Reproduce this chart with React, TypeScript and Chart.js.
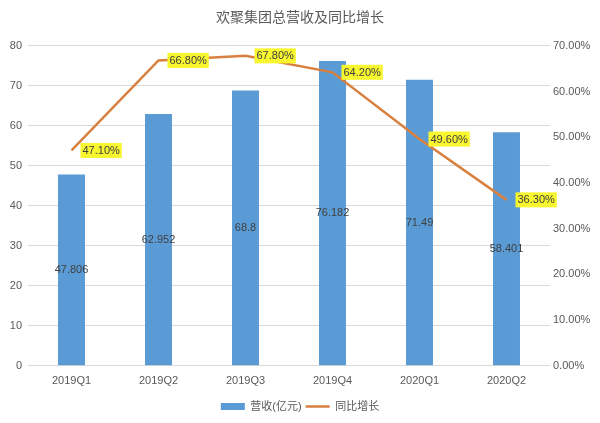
import React, { useEffect, useRef } from "react";
import { Chart, registerables } from "chart.js";

Chart.register(...registerables);

const categories = ["2019Q1", "2019Q2", "2019Q3", "2019Q4", "2020Q1", "2020Q2"];
const revenue = [47.806, 62.952, 68.8, 76.182, 71.49, 58.401];
const growth = [47.1, 66.8, 67.8, 64.2, 49.6, 36.3];
const leftTicks = [0, 80, 10];
const rightTicks = [0, 70, 10];

const FONT = '"Liberation Sans", "Noto Sans CJK SC", sans-serif';
const BAR_COLOR = "#5B9BD5";
const LINE_COLOR = "#D8803F";

const labelPlugin = {
  id: "valueLabels",
  afterDatasetsDraw(chart: any) {
    const ctx = chart.ctx;
    ctx.save();
    ctx.font = `11px ${FONT}`;
    ctx.textBaseline = "middle";
    const barMeta = chart.getDatasetMeta(0);
    ctx.fillStyle = "#404040";
    ctx.textAlign = "center";
    barMeta.data.forEach((bar: any, i: number) => {
      const cy = (bar.y + bar.base) / 2;
      ctx.fillText(String(revenue[i]), bar.x, cy);
    });
    const lineMeta = chart.getDatasetMeta(1);
    ctx.textAlign = "left";
    lineMeta.data.forEach((pt: any, i: number) => {
      const text = growth[i].toFixed(2) + "%";
      const w = ctx.measureText(text).width + 4;
      const h = 15;
      const x = pt.x + 9;
      const y = pt.y - h / 2;
      ctx.fillStyle = "#F8F62E";
      ctx.fillRect(x, y, w, h);
      ctx.fillStyle = "#404040";
      ctx.fillText(text, x + 2, pt.y + 0.5);
    });
    ctx.restore();
  },
};

export default function App() {
  const ref = useRef<HTMLCanvasElement>(null);
  useEffect(() => {
    if (!ref.current) return;
    const chart = new Chart(ref.current, {
      type: "bar",
      data: {
        labels: categories,
        datasets: [
          {
            type: "bar",
            label: "营收(亿元)",
            data: revenue,
            backgroundColor: BAR_COLOR,
            borderWidth: 0,
            categoryPercentage: 1,
            barPercentage: 0.31,
            yAxisID: "y",
            order: 1,
          },
          {
            type: "line",
            label: "同比增长",
            data: growth,
            borderColor: LINE_COLOR,
            backgroundColor: LINE_COLOR,
            borderWidth: 2.5,
            pointRadius: 0,
            tension: 0,
            yAxisID: "y1",
            order: 0,
          } as any,
        ],
      },
      options: {
        responsive: false,
        animation: false,
        layout: { padding: { left: 0, right: 0, top: 0, bottom: 1 } },
        plugins: {
          tooltip: { enabled: false },
          title: {
            display: true,
            text: "欢聚集团总营收及同比增长",
            color: "#595959",
            font: { family: FONT, size: 14, weight: "normal" },
            padding: { top: 10, bottom: 19 },
          },
          legend: {
            position: "bottom",
            labels: {
              usePointStyle: true,
              pointStyleWidth: 24,
              boxHeight: 7,
              padding: 4,
              color: "#595959",
              font: { family: FONT, size: 11 },
              generateLabels(chart: any) {
                const items = Chart.defaults.plugins.legend.labels.generateLabels(chart);
                items.sort((a: any, b: any) => a.datasetIndex - b.datasetIndex);
                return items.map((it: any) => ({
                  ...it,
                  pointStyle: it.datasetIndex === 0 ? "rect" : "line",
                  lineWidth: it.datasetIndex === 0 ? 0 : 2.5,
                  strokeStyle: it.datasetIndex === 0 ? BAR_COLOR : LINE_COLOR,
                }));
              },
            },
          },
        },
        scales: {
          x: {
            grid: { display: false, drawTicks: false },
            border: { display: false },
            ticks: { color: "#595959", font: { family: FONT, size: 11 }, padding: 9 },
          },
          y: {
            position: "left",
            min: leftTicks[0],
            max: leftTicks[1],
            ticks: { stepSize: leftTicks[2], color: "#595959", font: { family: FONT, size: 11 }, padding: 6 },
            grid: { color: "#D9D9D9", drawTicks: false },
            border: { display: false },
            afterFit(scale: any) {
              scale.width = 28;
            },
          },
          y1: {
            position: "right",
            min: rightTicks[0],
            max: rightTicks[1],
            ticks: {
              stepSize: rightTicks[2],
              color: "#595959",
              font: { family: FONT, size: 11 },
              padding: 3,
              callback: (v: any) => Number(v).toFixed(2) + "%",
            },
            grid: { display: false, drawTicks: false },
            border: { display: false },
            afterFit(scale: any) {
              scale.width = 50;
            },
          },
        },
      },
      plugins: [labelPlugin],
    });
    return () => chart.destroy();
  }, []);
  return (
    <div style={{ position: "absolute", left: 0, top: 0, width: 600, height: 423, background: "#fff" }}>
      <canvas ref={ref} width={600} height={423} />
    </div>
  );
}
